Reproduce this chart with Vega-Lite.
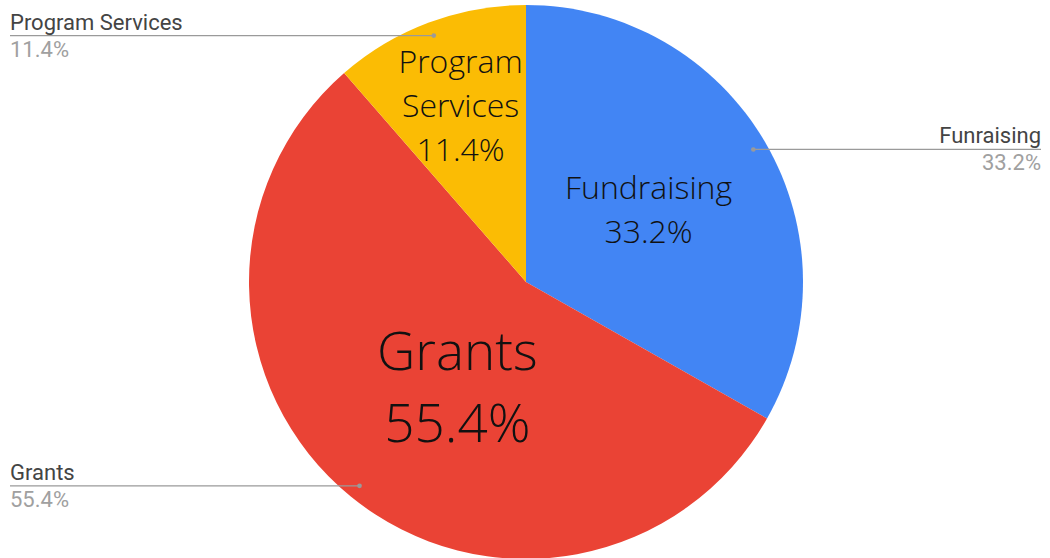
{
  "$schema": "https://vega.github.io/schema/vega-lite/v6.json",
  "width": 1048,
  "height": 552,
  "padding": {"left": 2, "top": 6, "right": 0, "bottom": 0},
  "autosize": {"type": "none"},
  "background": "white",
  "config": {"view": {"stroke": null}},
  "data": {
    "values": [
      {"category": "Fundraising", "outer_label": "Funraising", "value": 33.2, "order": 1},
      {"category": "Grants", "outer_label": "Grants", "value": 55.4, "order": 2},
      {"category": "Program Services", "outer_label": "Program Services", "value": 11.4, "order": 3}
    ]
  },
  "transform": [
    {"window": [{"op": "sum", "field": "value", "as": "cum"}], "sort": [{"field": "order"}], "frame": [null, 0]},
    {"calculate": "(datum.cum - datum.value / 2) / 100 * 2 * PI", "as": "mid"},
    {"calculate": "sin(datum.mid)", "as": "sx"},
    {"calculate": "cos(datum.mid)", "as": "sy"},
    {"calculate": "0.95 * datum.sx", "as": "px"},
    {"calculate": "0.95 * datum.sy", "as": "py"},
    {"calculate": "datum.sx < 0 ? -1.8628 : 1.8592", "as": "lx"},
    {"calculate": "format(datum.value, '.1f') + '%'", "as": "pct"},
    {"calculate": "replace(datum.category, ' ', '\\n') + '\\n' + datum.pct", "as": "inner"}
  ],
  "layer": [
    {
      "mark": {"type": "arc", "outerRadius": 277},
      "encoding": {
        "theta": {"field": "value", "type": "quantitative", "stack": true},
        "order": {"field": "order", "type": "quantitative"},
        "color": {
          "field": "category",
          "type": "nominal",
          "scale": {"domain": ["Fundraising", "Grants", "Program Services"], "range": ["#4285F4", "#EA4335", "#FBBC04"]},
          "legend": null
        }
      }
    },
    {
      "transform": [
        {"filter": "datum.category === 'Fundraising'"},
        {"calculate": "0.512 * datum.sx", "as": "ix"},
        {"calculate": "0.512 * datum.sy", "as": "iy"}
      ],
      "mark": {"type": "text", "font": "Open Sans", "fontWeight": 300, "fontSize": 32, "lineHeight": 44, "lineBreak": "\n", "align": "center", "baseline": "middle", "dy": -22, "color": "#111111"},
      "encoding": {
        "x": {"field": "ix", "type": "quantitative", "scale": {"domain": [-1.8917, 1.8917], "nice": false, "zero": false}, "axis": null},
        "y": {"field": "iy", "type": "quantitative", "scale": {"domain": [-0.99639, 0.99639], "nice": false, "zero": false}, "axis": null},
        "text": {"field": "inner"}
      }
    },
    {
      "transform": [
        {"filter": "datum.category === 'Grants'"},
        {"calculate": "0.46 * datum.sx", "as": "ix"},
        {"calculate": "0.46 * datum.sy", "as": "iy"}
      ],
      "mark": {"type": "text", "font": "Open Sans", "fontWeight": 300, "fontSize": 53, "lineHeight": 72, "lineBreak": "\n", "align": "center", "baseline": "middle", "dx": 12, "dy": -27, "color": "#111111"},
      "encoding": {
        "x": {"field": "ix", "type": "quantitative", "scale": {"domain": [-1.8917, 1.8917], "nice": false, "zero": false}, "axis": null},
        "y": {"field": "iy", "type": "quantitative", "scale": {"domain": [-0.99639, 0.99639], "nice": false, "zero": false}, "axis": null},
        "text": {"field": "inner"}
      }
    },
    {
      "transform": [
        {"filter": "datum.category === 'Program Services'"},
        {"calculate": "0.674 * datum.sx", "as": "ix"},
        {"calculate": "0.674 * datum.sy", "as": "iy"}
      ],
      "mark": {"type": "text", "font": "Open Sans", "fontWeight": 300, "fontSize": 32, "lineHeight": 44, "lineBreak": "\n", "align": "center", "baseline": "middle", "dy": -44, "color": "#111111"},
      "encoding": {
        "x": {"field": "ix", "type": "quantitative", "scale": {"domain": [-1.8917, 1.8917], "nice": false, "zero": false}, "axis": null},
        "y": {"field": "iy", "type": "quantitative", "scale": {"domain": [-0.99639, 0.99639], "nice": false, "zero": false}, "axis": null},
        "text": {"field": "inner"}
      }
    },
    {
      "mark": {"type": "rule", "color": "#9a9a9a", "strokeWidth": 1.3},
      "encoding": {
        "x": {"field": "px", "type": "quantitative", "scale": {"domain": [-1.8917, 1.8917], "nice": false, "zero": false}, "axis": null},
        "x2": {"field": "lx"},
        "y": {"field": "py", "type": "quantitative", "scale": {"domain": [-0.99639, 0.99639], "nice": false, "zero": false}, "axis": null}
      }
    },
    {
      "mark": {"type": "point", "filled": true, "size": 22, "opacity": 1, "color": "#9a9a9a"},
      "encoding": {
        "x": {"field": "px", "type": "quantitative", "scale": {"domain": [-1.8917, 1.8917], "nice": false, "zero": false}, "axis": null},
        "y": {"field": "py", "type": "quantitative", "scale": {"domain": [-0.99639, 0.99639], "nice": false, "zero": false}, "axis": null}
      }
    },
    {
      "transform": [{"filter": "datum.sx < 0"}],
      "mark": {"type": "text", "font": "Roboto", "fontSize": 22, "align": "left", "baseline": "alphabetic", "dy": -6, "color": "#444444"},
      "encoding": {
        "x": {"field": "lx", "type": "quantitative", "scale": {"domain": [-1.8917, 1.8917], "nice": false, "zero": false}, "axis": null},
        "y": {"field": "py", "type": "quantitative", "scale": {"domain": [-0.99639, 0.99639], "nice": false, "zero": false}, "axis": null},
        "text": {"field": "outer_label"}
      }
    },
    {
      "transform": [{"filter": "datum.sx < 0"}],
      "mark": {"type": "text", "font": "Roboto", "fontSize": 22, "align": "left", "baseline": "alphabetic", "dy": 21, "color": "#a0a0a0"},
      "encoding": {
        "x": {"field": "lx", "type": "quantitative", "scale": {"domain": [-1.8917, 1.8917], "nice": false, "zero": false}, "axis": null},
        "y": {"field": "py", "type": "quantitative", "scale": {"domain": [-0.99639, 0.99639], "nice": false, "zero": false}, "axis": null},
        "text": {"field": "pct"}
      }
    },
    {
      "transform": [{"filter": "datum.sx >= 0"}],
      "mark": {"type": "text", "font": "Roboto", "fontSize": 22, "align": "right", "baseline": "alphabetic", "dy": -6, "color": "#444444"},
      "encoding": {
        "x": {"field": "lx", "type": "quantitative", "scale": {"domain": [-1.8917, 1.8917], "nice": false, "zero": false}, "axis": null},
        "y": {"field": "py", "type": "quantitative", "scale": {"domain": [-0.99639, 0.99639], "nice": false, "zero": false}, "axis": null},
        "text": {"field": "outer_label"}
      }
    },
    {
      "transform": [{"filter": "datum.sx >= 0"}],
      "mark": {"type": "text", "font": "Roboto", "fontSize": 22, "align": "right", "baseline": "alphabetic", "dy": 21, "color": "#a0a0a0"},
      "encoding": {
        "x": {"field": "lx", "type": "quantitative", "scale": {"domain": [-1.8917, 1.8917], "nice": false, "zero": false}, "axis": null},
        "y": {"field": "py", "type": "quantitative", "scale": {"domain": [-0.99639, 0.99639], "nice": false, "zero": false}, "axis": null},
        "text": {"field": "pct"}
      }
    }
  ]
}
